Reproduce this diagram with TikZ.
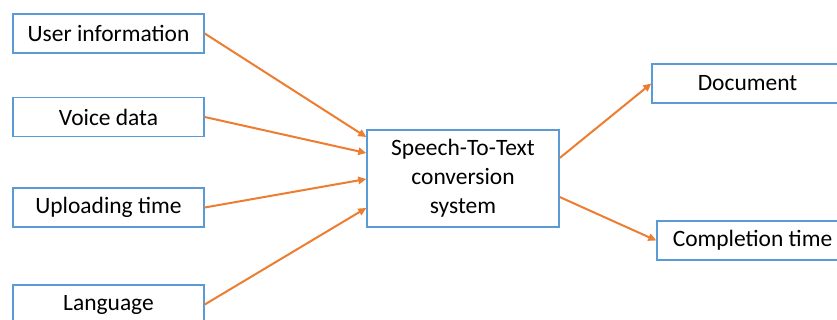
\documentclass[tikz,border=0pt]{standalone}
\usepackage{fontspec}
\setmainfont{Carlito}
\usetikzlibrary{arrows.meta}
\definecolor{boxblue}{HTML}{5B9BD5}
\definecolor{arrorange}{HTML}{ED7D31}
\begin{document}
\begin{tikzpicture}[x=0.75pt,y=-0.75pt,
  box/.style={draw=boxblue,line width=1.1pt,fill=white,inner sep=0pt,
    minimum width=143.25pt,minimum height=29.25pt,align=center,
    font=\fontsize{17.6pt}{21.7pt}\selectfont},
  conn/.style={draw=arrorange,line width=1.5pt,-{Triangle[length=6pt,width=5.5pt]}}]
\clip (0,0) rectangle (837,320);
\fill[white] (0,0) rectangle (837,320);
\node[box] (ui) at (108.5,33.5) {User information};
\node[box] (vd) at (108.5,117) {Voice data};
\node[box] (ut) at (108.5,207.5) {Uploading time};
\node[box] (lg) at (108.5,304.5) {Language};
\node[box,minimum width=144pt,minimum height=72.75pt] (stt) at (463,178.5) {Speech-To-Text\\conversion\\system};
\node[box] (doc) at (747.5,83.5) {Document};
\node[box] (ct) at (752.5,240.5) {Completion time};
\draw[conn] (ui.east) -- ([yshift=31.1pt]stt.west);
\draw[conn] (vd.east) -- ([yshift=19.1pt]stt.west);
\draw[conn] (ut.east) -- ([yshift=-0.4pt]stt.west);
\draw[conn] (lg.east) -- ([yshift=-22.1pt]stt.west);
\draw[conn] ([yshift=15.4pt]stt.east) -- (doc.west);
\draw[conn] ([yshift=-13.9pt]stt.east) -- (ct.west);
\end{tikzpicture}
\end{document}
